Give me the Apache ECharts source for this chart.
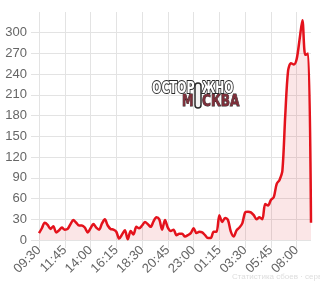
<!DOCTYPE html>
<html><head><meta charset="utf-8">
<script src="https://cdn.jsdelivr.net/npm/echarts@6/dist/echarts.min.js"></script>
<style>html,body{margin:0;padding:0;background:#fff}#c{width:320px;height:288px}</style>
</head><body><div id="c"></div>
<script>
const times = ["09:30","09:45","10:00","10:15","10:30","10:45","11:00","11:15","11:30","11:45",
"12:00","12:15","12:30","12:45","13:00","13:15","13:30","13:45","14:00",
"14:15","14:30","14:45","15:00","15:15","15:30","15:45","16:00","16:15",
"16:30","16:45","17:00","17:15","17:30","17:45","18:00","18:15","18:30",
"18:45","19:00","19:15","19:30","19:45","20:00","20:15","20:30","20:45",
"21:00","21:15","21:30","21:45","22:00","22:15","22:30","22:45","23:00",
"23:15","23:30","23:45","00:00","00:15","00:30","00:45","01:00","01:15",
"01:30","01:45","02:00","02:15","02:30","02:45","03:00","03:15","03:30",
"03:45","04:00","04:15","04:30","04:45","05:00","05:15","05:30","05:45",
"06:00","06:15","06:30","06:45","07:00","07:15","07:30","07:45","08:00",
"08:15","08:30","08:45","09:00","09:15"];
const reports = [10,17,25,22,16,20,11,14,18,15,
16,23,29,25,21,21,18,11,17,23,
18,15,24,30,21,16,15,12,2,8,
14,1,13,8,19,17,21,26,23,19,
27,33,30,15,29,18,13,15,7,9,
9,5,7,10,17,10,12,11,7,3,
3,12,12,36,26,32,29,12,5,14,
18,24,40,41,40,36,30,33,30,52,
50,58,62,81,87,100,180,245,256,254,
262,290,318,268,270,25];
const yTicks = [0,30,60,90,120,150,180,210,240,270,300];

const font = "'Liberation Sans', Arial, sans-serif";
const logoFont = "bold 15px 'Liberation Sans Narrow', 'DejaVu Sans Condensed', sans-serif";
const gridColor = '#e3e3e3';
function logoText(text, x, y, sx, fill, stroke, lw){
  return {type:'text', x:x, y:y, scaleX:sx, z:100,
    style:{text:text, x:0, y:0, font:logoFont, fill:fill, stroke:stroke, lineWidth:lw, strokeFirst:true,
      align:'left', verticalAlign:'middle'}};
}
const chart = echarts.init(document.getElementById('c'), null, {renderer:'canvas'});
chart.setOption({
  animation:false,
  grid:{left:39,right:9,top:12,bottom:48,containLabel:false},
  xAxis:{
    type:'category', data:times, boundaryGap:false,
    axisLine:{show:false},
    axisTick:{show:true, interval:8, length:8, lineStyle:{color:gridColor}},
    splitLine:{show:true, interval:8, lineStyle:{color:gridColor}},
    axisLabel:{interval:8, rotate:45, fontSize:13, color:'#666', fontFamily:font, margin:8}
  },
  yAxis:{
    type:'value', min:0, max:330, interval:30,
    axisLine:{show:false},
    axisTick:{show:true, length:8, lineStyle:{color:gridColor}, customValues:yTicks},
    splitLine:{show:true, lineStyle:{color:gridColor}},
    axisLabel:{fontSize:13, color:'#666', fontFamily:font, margin:12, customValues:yTicks}
  },
  series:[{
    type:'line', data:reports, smooth:0.3, symbol:'none',
    lineStyle:{color:'#e4121c', width:2.5},
    areaStyle:{color:'rgba(222,40,50,0.17)'}
  }],
  graphic:[
    logoText('ОСТОР', 152, 89.5, 0.82, '#fff', '#2a2a2a', 2),
    logoText('ЖНО', 202, 89.5, 0.8, '#fff', '#2a2a2a', 2),
    {type:'rect', z:100, shape:{x:195, y:83, width:6, height:25, r:3}, style:{fill:'#f4f4f4', stroke:'#2a2a2a', lineWidth:1.5}},
    logoText('М', 182, 102, 0.85, '#7d2f3a', '#2a2a2a', 0.8),
    logoText('СКВА', 202, 102, 0.9, '#7d2f3a', '#2a2a2a', 0.8),
    {type:'text', left:232, top:273, style:{text:'Статистика сбоев · сервис', font:"8px "+font, fill:'#ddd'}}
  ]
});
</script></body></html>
